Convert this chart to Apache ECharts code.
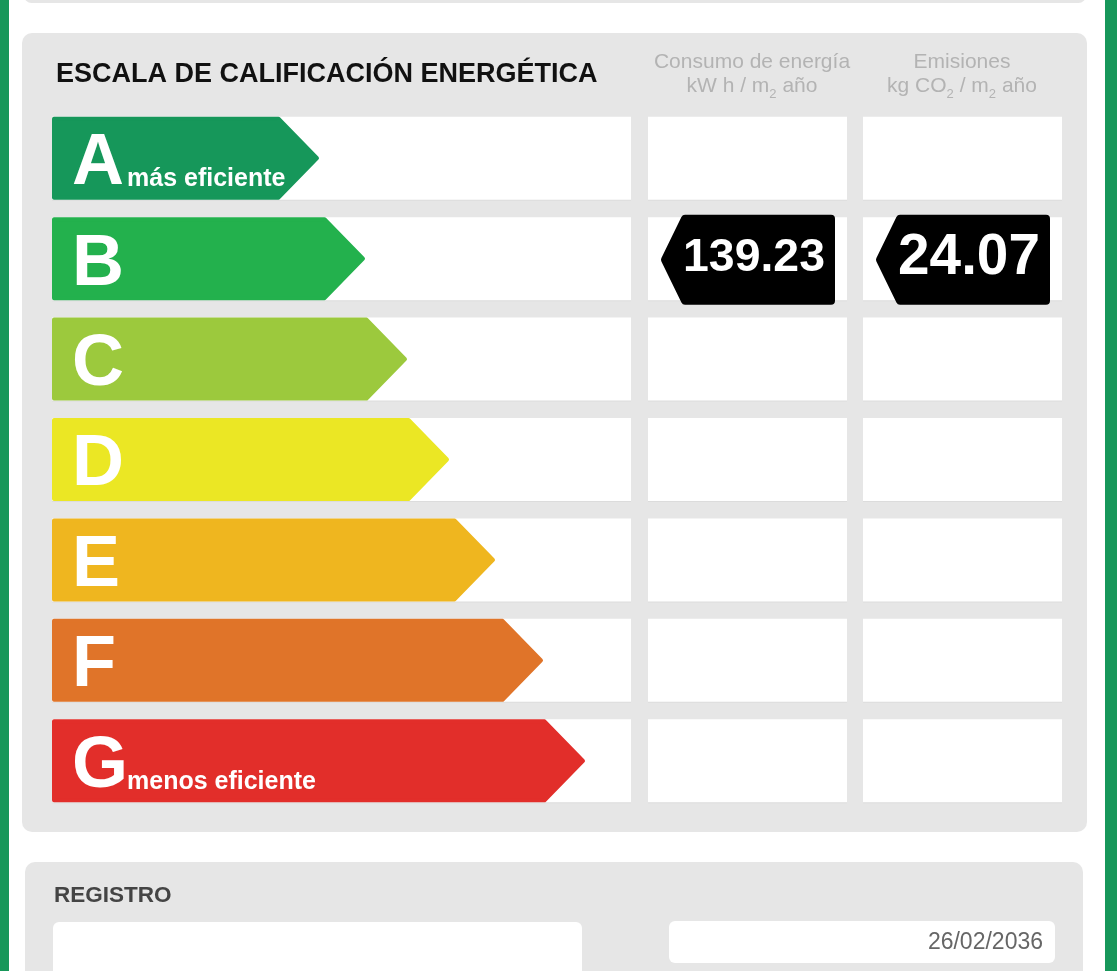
<!DOCTYPE html>
<html><head><meta charset="utf-8">
<script src="https://cdn.jsdelivr.net/npm/echarts@6/dist/echarts.min.js"></script>
<style>html,body{margin:0;padding:0;background:#fff;}#c{width:1119px;height:971px;}</style>
</head><body><div id="c"></div>
<script>
// ---- data ----
const categories = ['A', 'B', 'C', 'D', 'E', 'F', 'G'];
const arrowTips = [267, 313, 355, 397, 443, 491, 533];   // arrow tip along the scale (0..579)
const rowNotes = ['más eficiente', '', '', '', '', '', 'menos eficiente'];
const consumo = [null, 139.23, null, null, null, null, null];
const emisiones = [null, 24.07, null, null, null, null, null];
const registroFecha = '26/02/2036';

// ---- styles ----
const palette = ['#16975a', '#23b14d', '#9cc93d', '#ebe724', '#efb61f', '#e07429', '#e22e2a'];
const FF = '"Liberation Sans", Arial, Helvetica, sans-serif';
const SCALE_MAX = 579;
const ROW_H = 83;

const mctx = document.createElement('canvas').getContext('2d');
function fitFont(str, maxW, maxF) {
  mctx.font = 'bold 100px ' + FF;
  const w = mctx.measureText(str).width;
  return Math.min(maxF, 100 * maxW / w);
}

function renderArrow(params, api) {
  const i = api.value(1);
  const tip = api.value(0);
  const p0 = api.coord([0, i]);
  const pt = api.coord([tip, i]);
  const pe = api.coord([SCALE_MAX, i]);
  const yc = p0[1], half = ROW_H / 2, x0 = p0[0], ins = 2, taper = half - 1;
  const c = palette[i];
  const children = [
    { type: 'rect', shape: { x: x0, y: yc - half + 1, width: pe[0] - x0, height: ROW_H }, style: { fill: '#dcdcdc' } },
    { type: 'rect', shape: { x: x0, y: yc - half, width: pe[0] - x0, height: ROW_H }, style: { fill: '#ffffff' } },
    { type: 'polygon', shape: { points: [
        [x0 + ins, yc - half + ins], [pt[0] - taper, yc - half + ins], [pt[0] - ins, yc],
        [pt[0] - taper, yc + half - ins], [x0 + ins, yc + half - ins]] },
      style: { fill: c, stroke: c, lineWidth: 4, lineJoin: 'round' } },
    { type: 'text', style: { text: categories[i], x: x0 + 20, y: yc + 6, fill: '#ffffff',
        font: 'bold 72px ' + FF, align: 'left', verticalAlign: 'middle', textAlign: 'left', textVerticalAlign: 'middle' } }
  ];
  if (rowNotes[i]) {
    children.push({ type: 'text', style: { text: rowNotes[i], x: x0 + 75, y: yc + 21, fill: '#ffffff',
        font: 'bold 25px ' + FF, align: 'left', verticalAlign: 'middle', textAlign: 'left', textVerticalAlign: 'middle' } });
  }
  return { type: 'group', children: children };
}

function makeCellRenderer(values) {
  return function (params, api) {
    const i = api.value(1);
    const p0 = api.coord([0, i]);
    const p1 = api.coord([1, i]);
    const yc = p0[1], half = ROW_H / 2, x0 = p0[0];
    const children = [
      { type: 'rect', shape: { x: x0, y: yc - half + 1, width: p1[0] - x0, height: ROW_H }, style: { fill: '#dcdcdc' } },
      { type: 'rect', shape: { x: x0, y: yc - half, width: p1[0] - x0, height: ROW_H }, style: { fill: '#ffffff' } }
    ];
    const v = values[i];
    if (v !== null && v !== undefined) {
      const lp = x0 + 13, ins = 4, top = yc - 44, bot = yc + 46;
      children.push({ type: 'polygon', shape: { points: [
          [lp + ins, yc + 1], [lp + 22 + ins * 0.5, top + ins], [lp + 174 - ins, top + ins],
          [lp + 174 - ins, bot - ins], [lp + 22 + ins * 0.5, bot - ins]] },
        style: { fill: '#000', stroke: '#000', lineWidth: ins * 2, lineJoin: 'round' } });
      const s = v.toFixed(2);
      const fs = fitFont(s, 142, 58);
      children.push({ type: 'text', style: { text: s, x: x0 + 106, y: yc, fill: '#ffffff',
          font: 'bold ' + fs.toFixed(1) + 'px ' + FF, align: 'center', verticalAlign: 'middle',
          textAlign: 'center', textVerticalAlign: 'middle' } });
    }
    return { type: 'group', children: children };
  };
}

const gridTop = 108, gridH = 703;
const chart = echarts.init(document.getElementById('c'), null, { renderer: 'canvas' });
const hdrFill = '#b3b3b3';
const subRich = {
  n: { fontSize: 21, fontFamily: FF, fill: hdrFill },
  s: { fontSize: 13, fontFamily: FF, fill: hdrFill, padding: [16, 0, 0, 0] }
};
chart.setOption({
  animation: false,
  backgroundColor: '#ffffff',
  grid: [
    { left: 52, top: gridTop, width: SCALE_MAX, height: gridH },
    { left: 648, top: gridTop, width: 199, height: gridH },
    { left: 863, top: gridTop, width: 199, height: gridH }
  ],
  xAxis: [0, 1, 2].map(g => ({ type: 'value', gridIndex: g, min: 0, max: g === 0 ? SCALE_MAX : 1, show: false })),
  yAxis: [0, 1, 2].map(g => ({ type: 'category', gridIndex: g, data: categories, inverse: true, show: false })),
  graphic: [
    { type: 'rect', z: -10, shape: { x: 0, y: 0, width: 9, height: 971 }, style: { fill: '#17975a' } },
    { type: 'rect', z: -10, shape: { x: 1105, y: 0, width: 12, height: 971 }, style: { fill: '#17975a' } },
    { type: 'rect', z: -10, shape: { x: 24, y: -12, width: 1062, height: 15, r: 8 }, style: { fill: '#e6e6e6' } },
    { type: 'rect', z: -10, shape: { x: 22, y: 33, width: 1065, height: 799, r: 10 }, style: { fill: '#e6e6e6' } },
    { type: 'rect', z: -10, shape: { x: 25, y: 862, width: 1058, height: 200, r: 10 }, style: { fill: '#e6e6e6' } },
    { type: 'rect', z: -9, shape: { x: 53, y: 922, width: 529, height: 100, r: 6 }, style: { fill: '#ffffff' } },
    { type: 'rect', z: -9, shape: { x: 669, y: 921, width: 386, height: 42, r: 6 }, style: { fill: '#ffffff' } },
    { type: 'text', z: 5, x: 56, y: 75, style: { text: 'ESCALA DE CALIFICACIÓN ENERGÉTICA', font: 'bold 27px ' + FF, fill: '#111111',
        align: 'left', verticalAlign: 'middle', textAlign: 'left', textVerticalAlign: 'middle' } },
    { type: 'text', z: 5, x: 752, y: 62, style: { text: 'Consumo de energía', font: '21px ' + FF, fill: hdrFill,
        align: 'center', verticalAlign: 'middle', textAlign: 'center', textVerticalAlign: 'middle' } },
    { type: 'text', z: 5, x: 752, y: 86, style: { text: '{n|kW h / m}{s|2}{n| año}', rich: subRich, fill: hdrFill, font: '21px ' + FF,
        align: 'center', verticalAlign: 'middle', textAlign: 'center', textVerticalAlign: 'middle' } },
    { type: 'text', z: 5, x: 962, y: 62, style: { text: 'Emisiones', font: '21px ' + FF, fill: hdrFill,
        align: 'center', verticalAlign: 'middle', textAlign: 'center', textVerticalAlign: 'middle' } },
    { type: 'text', z: 5, x: 962, y: 86, style: { text: '{n|kg CO}{s|2}{n| / m}{s|2}{n| año}', rich: subRich, fill: hdrFill, font: '21px ' + FF,
        align: 'center', verticalAlign: 'middle', textAlign: 'center', textVerticalAlign: 'middle' } },
    { type: 'text', z: 5, x: 54, y: 896, style: { text: 'REGISTRO', font: 'bold 22.5px ' + FF, fill: '#444444',
        align: 'left', verticalAlign: 'middle', textAlign: 'left', textVerticalAlign: 'middle' } },
    { type: 'text', z: 5, x: 1043, y: 943, style: { text: registroFecha, font: '23px ' + FF, fill: '#666666',
        align: 'right', verticalAlign: 'middle', textAlign: 'right', textVerticalAlign: 'middle' } }
  ],
  series: [
    { type: 'custom', xAxisIndex: 0, yAxisIndex: 0, clip: false, renderItem: renderArrow,
      data: categories.map((c, i) => [arrowTips[i], i]) },
    { type: 'custom', xAxisIndex: 1, yAxisIndex: 1, clip: false, renderItem: makeCellRenderer(consumo),
      data: categories.map((c, i) => [0, i]) },
    { type: 'custom', xAxisIndex: 2, yAxisIndex: 2, clip: false, renderItem: makeCellRenderer(emisiones),
      data: categories.map((c, i) => [0, i]) }
  ]
});
</script></body></html>
